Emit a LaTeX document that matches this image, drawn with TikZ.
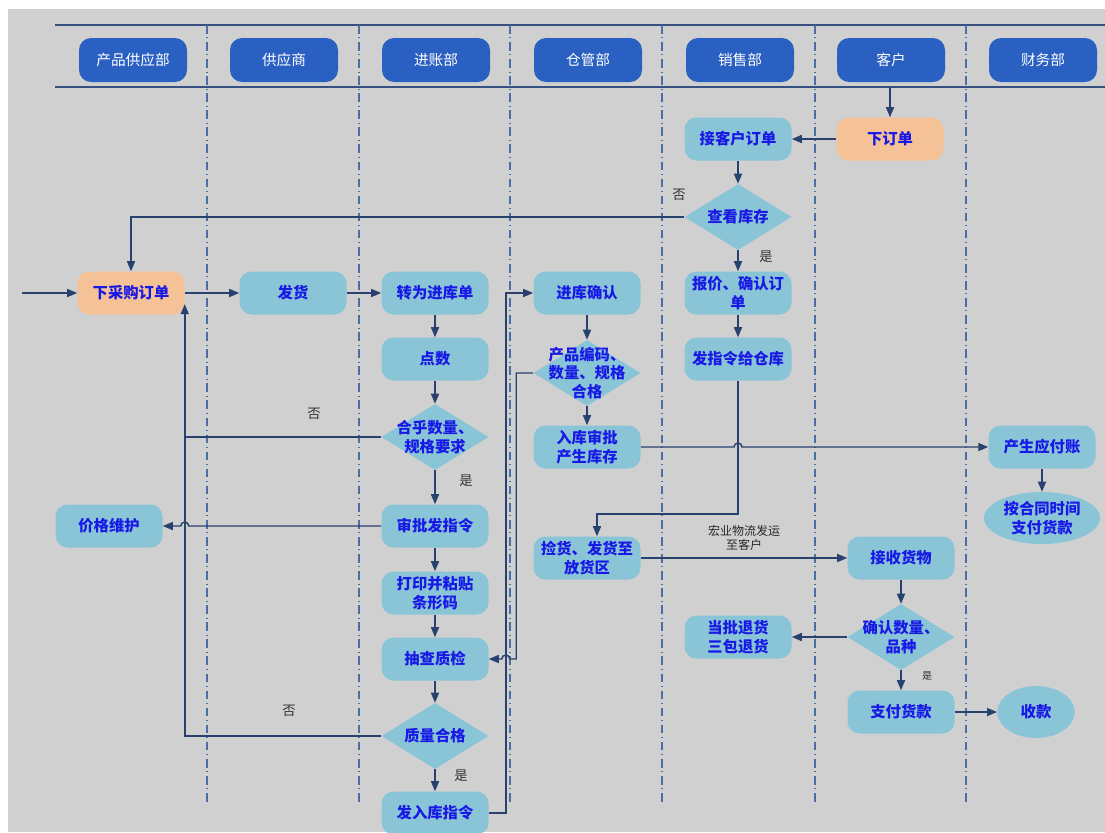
\documentclass[tikz,border=0pt]{standalone}
\usepackage{fontspec}
\setmainfont{Noto Sans CJK SC}
\usetikzlibrary{shapes.geometric,arrows.meta}

\definecolor{bgray}{RGB}{208,208,208}
\definecolor{hdrblue}{RGB}{42,96,194}
\definecolor{stepfill}{RGB}{137,197,214}
\definecolor{startfill}{RGB}{245,193,150}
\definecolor{txtblue}{RGB}{25,25,230}
\definecolor{linecol}{RGB}{40,65,110}
\definecolor{lanecol}{RGB}{75,110,165}
\definecolor{hlinecol}{RGB}{55,80,130}

\tikzset{
  hdr/.style={rectangle, rounded corners=9pt, fill=hdrblue, text=white,
    minimum width=81pt, minimum height=33pt, font=\fontsize{11}{13}\selectfont},
  proc/.style={rectangle, rounded corners=9pt, fill=stepfill, text=txtblue,
    minimum width=80.25pt, minimum height=32.25pt, inner sep=1pt, align=center,
    font=\fontsize{11.5}{14}\selectfont\bfseries},
  startbox/.style={proc, fill=startfill},
  decide/.style={diamond, fill=stepfill, minimum width=80.25pt,
    minimum height=49.5pt, inner sep=0pt},
  dtext/.style={text=txtblue, align=center, inner sep=0pt,
    font=\fontsize{11.5}{14}\selectfont\bfseries},
  oval/.style={ellipse, fill=stepfill, text=txtblue, align=center, inner sep=0pt,
    font=\fontsize{11.5}{14}\selectfont\bfseries},
  flow/.style={draw=linecol, line width=1.1pt, -{Triangle[length=7.5pt,width=6pt]}},
  joinline/.style={draw=linecol, line width=1.1pt},
  lane/.style={draw=lanecol, line width=0.9pt, dash pattern=on 6.5pt off 2.8pt on 0.7pt off 2.8pt},
  hline/.style={draw=hlinecol, line width=1.4pt},
  yesno/.style={text=black!80, font=\fontsize{10}{12}\selectfont},
}

\begin{document}
\begin{tikzpicture}[x=0.75pt,y=-0.75pt]
% background and lanes
\fill[white] (0,0) rectangle (1105,832);
\fill[bgray] (8,9) rectangle (1105,832);
\useasboundingbox (0,0) rectangle (1105,832);
\draw[hline] (55,25) -- (1105,25);
\draw[hline] (55,87) -- (1105,87);
\coordinate (hbot) at (0,87);
\foreach \x in {207,359,510,662,815,966}
  \draw[lane] (\x,25) -- (\x,805);

% lane headers
\node[hdr] (h1) at (133,60) {产品供应部};
\node[hdr] (h2) at (284,60) {供应商};
\node[hdr] (h3) at (436,60) {进账部};
\node[hdr] (h4) at (588,60) {仓管部};
\node[hdr] (h5) at (740,60) {销售部};
\node[hdr] (h6) at (891,60) {客户};
\node[hdr] (h7) at (1043,60) {财务部};

% purchasing side
\node[startbox] (buy) at (131,293) {下采购订单};
\node[proc] (price) at (109,526) {价格维护};
\node[proc] (ship) at (293,293) {发货};
\node[proc] (conv) at (435,293) {转为进库单};
\node[proc] (count) at (435,359) {点数};
\node[decide, label={[dtext]center:合乎数量、\\规格要求}] (check) at (435,437) {};
\node[proc] (approve) at (435,526) {审批发指令};
\node[proc] (print) at (435,593) {打印并粘贴\\条形码};
\node[proc] (spot) at (435,659) {抽查质检};
\node[decide, label={[dtext]center:质量合格}] (qok) at (435,736) {};
\node[proc] (issue) at (435,813) {发入库指令};

% warehouse
\node[proc] (confirm) at (587,293) {进库确认};
\node[decide, label={[dtext]center:产品编码、\\数量、规格\\合格}] (code) at (587,373) {};
\node[proc] (stockin) at (587,447) {入库审批\\产生库存};
\node[proc] (pick) at (587,558) {捡货、发货至\\放货区};

% sales and customer
\node[proc] (getord) at (738,139) {接客户订单};
\node[decide, label={[dtext]center:查看库存}] (stock) at (738,217) {};
\node[proc] (quote) at (738,293) {报价、确认订\\单};
\node[proc] (instr) at (738,359) {发指令给仓库};
\node[proc] (retn) at (738,637) {当批退货\\三包退货};
\node[startbox] (cust) at (890,139) {下订单};
\node[proc] (recv) at (901,558) {接收货物};
\node[decide, label={[dtext]center:确认数量、\\品种}] (qty) at (901,637) {};
\node[proc] (pay) at (901,712) {支付货款};

% finance
\node[proc] (payable) at (1042,447) {产生应付账};
\node[oval, minimum width=87pt, minimum height=39pt] (paydue) at (1042,518) {按合同时间\\支付货款};
\node[oval, minimum width=58pt, minimum height=39pt] (collect) at (1036,712) {收款};

% purchasing flow
\coordinate (in) at (22,293);
\draw[flow] (in) -- (buy);
\draw[flow] (buy) -- (ship);
\draw[flow] (ship) -- (conv);
\draw[flow] (conv) -- (count);
\draw[flow] (count) -- (check);
\draw[joinline] (check.west) -- (check.west -| buy.east);
\draw[flow] (check) -- (approve);
\coordinate (hopB) at (approve.west -| buy.east);
\draw[flow] (approve.west) -- ([xshift=3pt]hopB) arc[start angle=0, end angle=-180, radius=4] -- (price.east);
\draw[flow] (approve) -- (print);
\draw[flow] (print) -- (spot);
\draw[flow] (spot) -- (qok);
\draw[flow] (qok.west) -| ([yshift=8pt]buy.south east);
\draw[flow] (qok) -- (issue);

% into the warehouse
\coordinate (ret) at ([xshift=12.75pt]issue.east);
\draw[flow] (issue.east) -- (ret) |- (confirm.west);
\coordinate (chk) at ([xshift=-12.75pt]code.west);
\coordinate (hopC) at (spot.east -| ret);
\draw[flow] (code.west) -- (chk) |- ([xshift=3pt]hopC) arc[start angle=0, end angle=-180, radius=4] -- (spot.east);
\draw[flow] (confirm) -- (code);
\draw[flow] (code) -- (stockin);
\coordinate (hopA) at (stockin.east -| instr.south);
\draw[flow] (stockin.east) -- ([xshift=-3pt]hopA) arc[start angle=180, end angle=360, radius=4] -- (payable.west);
\draw[flow] (payable) -- (paydue);

% sales flow
\draw[flow] (cust |- hbot) -- (cust);
\draw[flow] (cust) -- (getord);
\draw[flow] (getord) -- (stock);
\draw[flow] (stock.west) -| (buy.north);
\draw[flow] (stock) -- (quote);
\draw[flow] (quote) -- (instr);
\draw[flow] (instr.south) -- ++(0,133) -| ([xshift=7.5pt]pick.north);
\draw[flow] (pick) -- (recv) node[midway, above=2pt, align=center, text=black!85,
  font=\fontsize{9}{10.5}\selectfont] (lgst) {宏业物流发运\\至客户};
\draw[flow] (recv) -- (qty);
\draw[flow] (qty) -- (retn);
\draw[flow] (qty) -- (pay);
\draw[flow] (pay) -- (collect);

% yes / no
\node[yesno] (n1) at (679,195) {否};
\node[yesno] (y1) at (766,257) {是};
\node[yesno] (n2) at (314,414) {否};
\node[yesno] (y2) at (466,481) {是};
\node[yesno] (n3) at (289,711) {否};
\node[yesno] (y3) at (461,776) {是};
\node[yesno, font=\fontsize{7.5}{9}\selectfont] (y4) at (927,676) {是};
\end{tikzpicture}
\end{document}
